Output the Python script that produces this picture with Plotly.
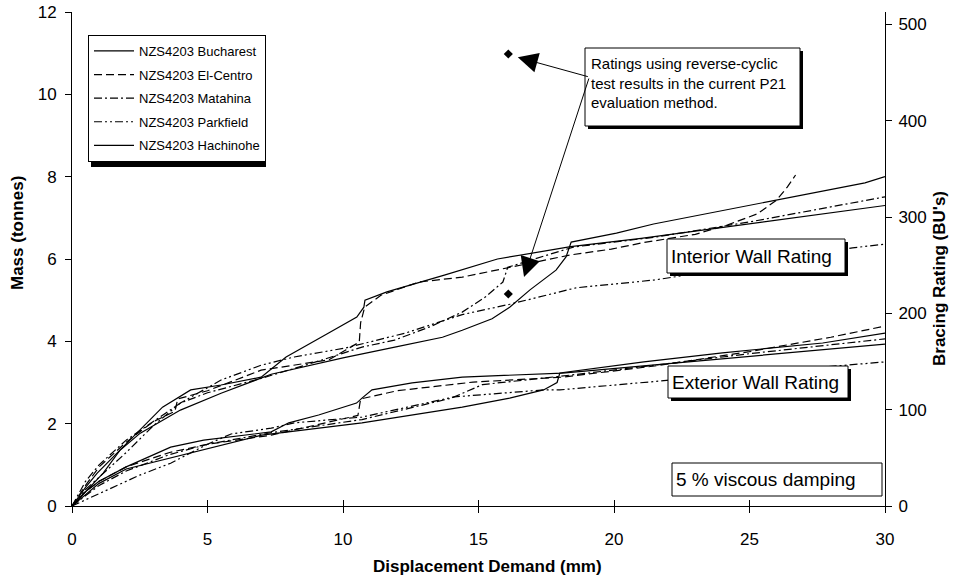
import plotly.graph_objects as go

# ---------------- data ----------------
series_names = ["NZS4203 Bucharest", "NZS4203 El-Centro", "NZS4203 Matahina",
                "NZS4203 Parkfield", "NZS4203 Hachinohe"]

# Interior wall rating curves
int_buch_x = [0, 0.5, 0.93, 1.52, 2.41, 3.34, 4.38, 5.5, 6.98, 7.9, 9.47, 10.51, 10.77, 10.81, 11.62, 12.81, 13.74, 15.7, 18.4, 21, 25, 30]
int_buch_y = [0, 0.45, 0.8, 1.19, 1.77, 2.40, 2.82, 2.94, 3.13, 3.62, 4.20, 4.59, 4.83, 5.0, 5.2, 5.44, 5.61, 6.0, 6.3, 6.5, 6.85, 7.3]

int_elc_x = [0, 0.5, 1, 2, 3, 3.8, 3.9, 5, 6.98, 9.47, 10.1, 10.6, 10.65, 10.8, 11.4, 12.8, 14.4, 16.6, 18.4, 19.9, 21.1, 23, 24.2, 25.3, 26.0, 26.4, 26.7]
int_elc_y = [0, 0.5, 0.95, 1.55, 2.05, 2.3, 2.6, 2.8, 3.3, 3.55, 3.79, 3.98, 4.45, 4.83, 5.12, 5.44, 5.56, 5.85, 6.1, 6.24, 6.4, 6.6, 6.83, 7.1, 7.43, 7.75, 8.04]

int_mat_x = [0, 0.5, 1, 2, 3, 4, 5, 6.98, 9, 10.7, 11.9, 13.2, 14.4, 15.26, 15.9, 16.08, 18.5, 21.5, 25, 30]
int_mat_y = [0, 0.6, 1.0, 1.6, 2.05, 2.5, 2.75, 3.1, 3.5, 3.86, 4.03, 4.35, 4.71, 5.08, 5.44, 5.80, 6.29, 6.53, 6.9, 7.51]

int_park_x = [0, 0.5, 1, 2, 3, 4, 5.5, 6.98, 8.2, 10.1, 12.3, 14.4, 16.15, 18.6, 21.5, 22.7, 25, 28.8, 30]
int_park_y = [0, 0.4, 0.7, 1.3, 1.95, 2.5, 3.06, 3.42, 3.62, 3.84, 4.2, 4.65, 4.9, 5.3, 5.49, 5.61, 5.85, 6.27, 6.36]

int_hach_x = [0, 0.67, 1.15, 1.78, 2.52, 4.0, 5.5, 7.35, 10, 12, 13.67, 14.4, 15.5, 16.15, 16.9, 17.86, 18.23, 18.42, 20.09, 21.46, 26.03, 29.26, 30]
int_hach_y = [0, 0.46, 0.80, 1.36, 1.77, 2.33, 2.74, 3.2, 3.6, 3.87, 4.10, 4.27, 4.55, 4.83, 5.25, 5.73, 6.05, 6.41, 6.63, 6.85, 7.43, 7.85, 8.0]

# Exterior wall rating curves
ext_buch_x = [0, 0.5, 1, 2, 3.64, 4.86, 7.35, 8.0, 9.1, 10.5, 10.7, 11.07, 12.55, 14.4, 18.1, 22.6, 26, 30]
ext_buch_y = [0, 0.35, 0.6, 0.95, 1.43, 1.6, 1.8, 2.02, 2.21, 2.5, 2.62, 2.82, 2.99, 3.13, 3.23, 3.5, 3.7, 3.93]

ext_elc_x = [0, 0.5, 1, 2, 3.6, 5, 7.35, 10.55, 10.65, 12, 14.8, 18.1, 21.5, 25, 28, 30]
ext_elc_y = [0, 0.35, 0.6, 0.95, 1.3, 1.5, 1.72, 2.2, 2.6, 2.8, 3.01, 3.13, 3.4, 3.75, 4.1, 4.37]

ext_mat_x = [0, 1, 2, 3.6, 5, 7.35, 10.7, 14.0, 15.15, 18, 21.5, 25, 30]
ext_mat_y = [0, 0.5, 0.85, 1.25, 1.5, 1.78, 2.1, 2.62, 2.95, 3.15, 3.42, 3.7, 4.06]

ext_park_x = [0, 1.3, 2.5, 3.64, 5, 5.87, 7.35, 8.2, 10.7, 14.1, 17.4, 18.0, 21.5, 22.1, 26, 30]
ext_park_y = [0, 0.39, 0.75, 1.04, 1.5, 1.75, 1.89, 2.02, 2.16, 2.65, 2.82, 2.82, 3.01, 3.06, 3.28, 3.5]

ext_hach_x = [0, 1, 2, 3.64, 5, 7.0, 10.7, 14.4, 16.15, 16.9, 17.4, 17.9, 18.0, 21.1, 24, 27.7, 30]
ext_hach_y = [0, 0.55, 0.9, 1.17, 1.4, 1.72, 2.02, 2.40, 2.62, 2.74, 2.82, 3.0, 3.23, 3.5, 3.72, 3.96, 4.2]

# P21 reverse-cyclic ratings
p21_x = [16.1, 16.1]
p21_y = [10.98, 5.15]

x_ticks = [0, 5, 10, 15, 20, 25, 30]
y_ticks = [0, 2, 4, 6, 8, 10, 12]
y2_ticks = [0, 100, 200, 300, 400, 500]

# ---------------- styling ----------------
FONT = "Liberation Sans, Arial, sans-serif"
dashes = ["solid", "8px,4px", "8px,3px,2px,3px", "8px,3px,2px,3px,2px,3px", "solid"]

interior = [(int_buch_x, int_buch_y), (int_elc_x, int_elc_y), (int_mat_x, int_mat_y),
            (int_park_x, int_park_y), (int_hach_x, int_hach_y)]
exterior = [(ext_buch_x, ext_buch_y), (ext_elc_x, ext_elc_y), (ext_mat_x, ext_mat_y),
            (ext_park_x, ext_park_y), (ext_hach_x, ext_hach_y)]

fig = go.Figure()
for i, name in enumerate(series_names):
    xs, ys = interior[i]
    fig.add_trace(go.Scatter(x=xs, y=ys, mode="lines", name=name, legendgroup=name,
                             line=dict(color="black", width=1.2, dash=dashes[i])))
for i, name in enumerate(series_names):
    xs, ys = exterior[i]
    fig.add_trace(go.Scatter(x=xs, y=ys, mode="lines", name=name, legendgroup=name,
                             showlegend=False,
                             line=dict(color="black", width=1.2, dash=dashes[i])))

fig.add_trace(go.Scatter(x=p21_x, y=p21_y, mode="markers", showlegend=False,
                         marker=dict(symbol="diamond", size=7, color="black")))

# dummy traces for extra axes (crossing ticks / right axis)
fig.add_trace(go.Scatter(x=[None], y=[None], yaxis="y2", showlegend=False, hoverinfo="skip"))
fig.add_trace(go.Scatter(x=[None], y=[None], xaxis="x2", showlegend=False, hoverinfo="skip"))

# plot area in pixels
L, R, T, B = 72, 885, 12, 506
W, H = 964, 581


def px(xp):
    return (xp - L) / (R - L)


def py(yp):
    return (B - yp) / (B - T)


shapes = []
annotations = []


def box(x0, y0, x1, y1, shadow=3):
    if shadow:
        shapes.append(dict(type="rect", xref="paper", yref="paper",
                           x0=px(x0 + shadow), x1=px(x1 + shadow), y0=py(y1 + shadow), y1=py(y0 + shadow),
                           fillcolor="black", line=dict(width=0), layer="above"))
    shapes.append(dict(type="rect", xref="paper", yref="paper",
                       x0=px(x0), x1=px(x1), y0=py(y1), y1=py(y0),
                       fillcolor="white", line=dict(color="black", width=1), layer="above"))


# legend shadow
shapes.append(dict(type="rect", xref="paper", yref="paper",
                   x0=px(91), x1=px(266), y0=py(167), y1=py(38),
                   fillcolor="black", line=dict(width=0), layer="above"))

box(585, 48, 800, 126)
annotations.append(dict(xref="paper", yref="paper", x=px(589), y=py(83), xanchor="left", yanchor="middle",
                        align="left", showarrow=False,
                        text="Ratings using reverse-cyclic<br>test results in the current P21<br>evaluation method.",
                        font=dict(family=FONT, size=15, color="black")))
box(667, 239, 845, 273)
annotations.append(dict(xref="paper", yref="paper", x=px(669), y=py(256), xanchor="left", yanchor="middle",
                        showarrow=False, text="Interior Wall Rating",
                        font=dict(family=FONT, size=19, color="black")))
box(668, 366, 848, 398)
annotations.append(dict(xref="paper", yref="paper", x=px(670), y=py(382), xanchor="left", yanchor="middle",
                        showarrow=False, text="Exterior Wall Rating",
                        font=dict(family=FONT, size=19, color="black")))
box(672, 463, 882, 496, shadow=0)
annotations.append(dict(xref="paper", yref="paper", x=px(674), y=py(479), xanchor="left", yanchor="middle",
                        showarrow=False, text="5 % viscous damping",
                        font=dict(family=FONT, size=19, color="black")))

# axis titles
annotations.append(dict(xref="paper", yref="paper", x=px(488), y=py(566), xanchor="center", yanchor="middle",
                        showarrow=False, text="<b>Displacement Demand (mm)</b>",
                        font=dict(family=FONT, size=17, color="black")))
annotations.append(dict(xref="paper", yref="paper", x=px(18), y=py(233), xanchor="center", yanchor="middle",
                        showarrow=False, text="<b>Mass (tonnes)</b>", textangle=-90,
                        font=dict(family=FONT, size=17, color="black")))
annotations.append(dict(xref="paper", yref="paper", x=px(940), y=py(279), xanchor="center", yanchor="middle",
                        showarrow=False, text="<b>Bracing Rating (BU's)</b>", textangle=-90,
                        font=dict(family=FONT, size=17, color="black")))

# arrows
tail_x, tail_y = 19.09, 10.42
for tip in [(16.45, 10.9), (16.68, 5.56)]:
    annotations.append(dict(x=tip[0], y=tip[1], xref="x", yref="y", ax=tail_x, ay=tail_y,
                            axref="x", ayref="y", text="", showarrow=True, arrowhead=2,
                            arrowsize=4, arrowwidth=1, arrowcolor="black"))

fig.update_layout(
    width=W, height=H,
    margin=dict(l=L, r=W - R, t=T, b=H - B, pad=0, autoexpand=False),
    paper_bgcolor="white", plot_bgcolor="white",
    font=dict(family=FONT, size=14, color="black"),
    showlegend=True,
    legend=dict(x=px(88), y=py(35), xanchor="left", yanchor="top",
                bgcolor="white", bordercolor="black", borderwidth=1,
                font=dict(family=FONT, size=13, color="black"),
                tracegroupgap=3.7, itemwidth=40),
    xaxis=dict(range=[0, 30], tickvals=x_ticks, ticks="outside", ticklen=6, tickcolor="black",
               showline=True, linecolor="black", linewidth=1, showgrid=False, zeroline=False,
               automargin=False, ticklabelstandoff=12,
               tickfont=dict(family=FONT, size=17)),
    xaxis2=dict(range=[0, 30], overlaying="x", matches="x", side="bottom", tickvals=x_ticks,
                ticks="inside", ticklen=6, tickcolor="black", showticklabels=False,
                showline=False, showgrid=False, zeroline=False, automargin=False),
    yaxis=dict(range=[0, 12], tickvals=y_ticks, ticks="outside", ticklen=6, tickcolor="black",
               showline=True, linecolor="black", linewidth=1, showgrid=False, zeroline=False,
               automargin=False, ticklabelstandoff=5,
               tickfont=dict(family=FONT, size=17)),
    yaxis2=dict(range=[0, 513], overlaying="y", side="right", tickvals=y2_ticks, ticks="outside",
                ticklen=6, tickcolor="black", showline=True, linecolor="black", linewidth=1,
                showgrid=False, zeroline=False, automargin=False, ticklabelstandoff=3,
                tickfont=dict(family=FONT, size=17)),
    shapes=shapes,
    annotations=annotations,
)

fig.write_html("out.html")
